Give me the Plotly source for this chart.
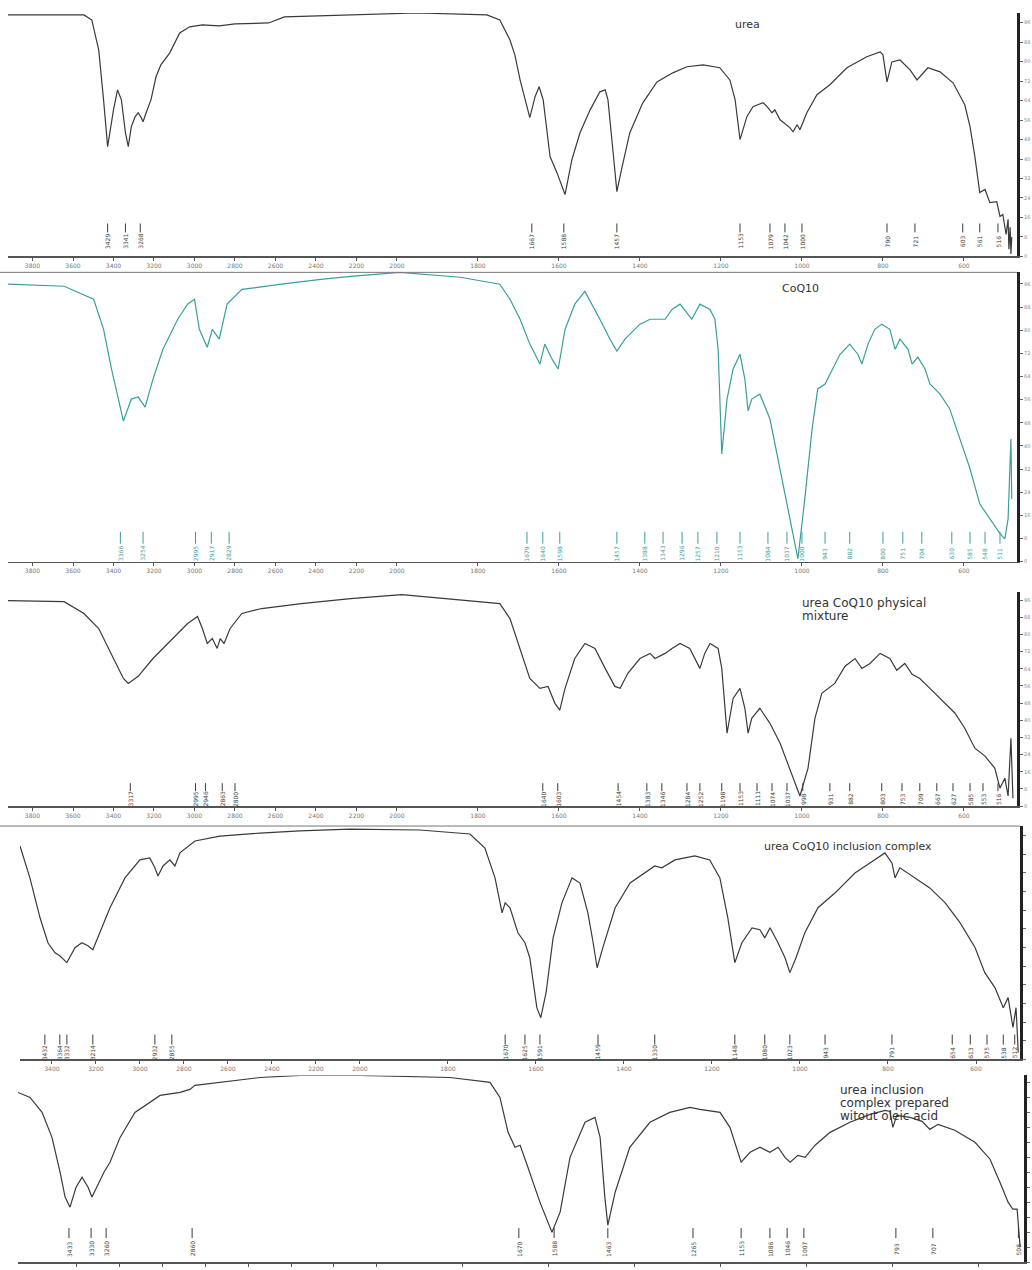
import numpy as np
import plotly.graph_objects as go

# ---------------- data (wavenumber cm-1, %T) ----------------
urea_wn = [3921, 3546, 3507, 3473, 3449, 3429, 3400, 3380, 3361, 3341, 3327, 3312, 3293, 3278, 3263,
           3254, 3239, 3215, 3190, 3166, 3122, 3073, 3024, 2961, 2878, 2800, 2634, 2556, 2390, 2229,
           2146, 1951, 1778, 1746, 1721, 1709, 1696, 1672, 1659, 1649, 1639, 1622, 1605, 1585, 1568,
           1548, 1523, 1499, 1486, 1479, 1467, 1457, 1444, 1425, 1393, 1358, 1319, 1284, 1244, 1203,
           1178, 1165, 1153, 1136, 1121, 1096, 1086, 1074, 1067, 1054, 1030, 1022, 1012, 1005, 988,
           963, 931, 889, 840, 807, 800, 790, 778, 758, 733, 716, 689, 659, 627, 598,
           585, 573, 561, 548, 536, 519, 511, 504, 496, 491, 489, 486, 484, 482]
urea_t = [99.2, 99.2, 97.1, 84.8, 64.3, 45.1, 60.2, 68.4, 64.3, 50.8, 45.1, 53.3, 57.4, 59.0, 57.0,
          55.3, 59.0, 64.3, 73.8, 78.7, 83.6, 91.8, 94.3, 95.1, 94.7, 95.5, 95.9, 98.4, 98.8, 99.2,
          99.6, 100.0, 99.2, 97.1, 88.9, 82.8, 72.5, 57.0, 65.6, 69.7, 64.3, 41.0, 34.4, 25.4, 39.8,
          50.8, 60.2, 67.6, 68.4, 64.3, 43.9, 26.6, 36.9, 50.8, 63.1, 71.7, 75.4, 77.9, 78.7, 77.5,
          72.5, 64.3, 48.0, 57.4, 61.5, 63.1, 61.5, 59.0, 60.2, 56.1, 52.9, 51.2, 54.1, 52.0, 59.0,
          66.4, 70.5, 77.5, 82.0, 84.0, 82.8, 71.7, 79.9, 80.7, 76.6, 72.5, 77.5, 75.8, 71.3, 62.3,
          53.3, 41.0, 26.2, 27.5, 22.1, 22.5, 16.4, 17.2, 9.0, 15.2, 2.9, 12.0, 1.0, 8.0]

coq_wn = [3921, 3644, 3498, 3449, 3410, 3376, 3351, 3312, 3278, 3244, 3205, 3156, 3083, 3034, 3000,
          2976, 2937, 2912, 2878, 2839, 2766, 2571, 2376, 2229, 1993, 1844, 1746, 1721, 1696, 1672,
          1647, 1635, 1617, 1602, 1585, 1561, 1536, 1499, 1474, 1457, 1437, 1400, 1375, 1338, 1321,
          1301, 1282, 1272, 1252, 1227, 1215, 1207, 1198, 1185, 1170, 1153, 1141, 1133, 1124, 1104,
          1079, 1054, 1030, 1010, 993, 975, 961, 943, 906, 882, 862, 852, 837, 820, 803,
          783, 770, 758, 738, 728, 714, 696, 684, 659, 635, 610, 585, 561, 536, 511,
          499, 491, 484, 482]
coq_t = [95.9, 95.2, 90.7, 80.3, 66.6, 56.2, 48.6, 56.2, 56.9, 53.4, 63.1, 73.4, 83.8, 89.0, 90.7,
         80.3, 74.1, 80.3, 76.9, 89.0, 94.1, 95.9, 97.6, 98.6, 100.0, 98.3, 95.9, 90.7, 83.8, 75.2,
         68.3, 75.2, 70.0, 66.6, 80.3, 89.0, 93.4, 83.8, 76.9, 72.8, 76.9, 82.1, 83.8, 83.8, 87.2,
         89.0, 85.5, 83.8, 89.0, 87.2, 83.8, 73.4, 37.2, 56.2, 66.6, 71.7, 63.1, 52.1, 56.2, 57.9,
         49.3, 32.1, 14.8, 1.0, 21.7, 45.9, 59.7, 61.4, 71.7, 75.2, 71.7, 68.3, 75.2, 80.3, 82.1,
         80.3, 73.4, 76.9, 73.4, 68.3, 70.7, 66.6, 61.4, 57.9, 52.8, 42.4, 32.1, 20.0, 14.8, 9.7,
         7.9, 14.8, 42.4, 21.7]

mix_wn = [3921, 3644, 3546, 3473, 3400, 3351, 3327, 3278, 3205, 3107, 3034, 2985, 2961, 2937, 2912,
          2888, 2873, 2854, 2824, 2766, 2668, 2473, 2229, 1988, 1869, 1746, 1721, 1696, 1672, 1647,
          1627, 1610, 1598, 1585, 1561, 1536, 1511, 1486, 1462, 1449, 1430, 1400, 1375, 1363, 1338,
          1321, 1301, 1277, 1264, 1252, 1240, 1227, 1207, 1198, 1185, 1170, 1153, 1141, 1133, 1124,
          1104, 1079, 1054, 1030, 1005, 985, 968, 951, 919, 894, 869, 852, 832, 807, 783,
          766, 746, 728, 709, 684, 659, 622, 598, 573, 548, 524, 511, 499, 491, 484, 479]
mix_t = [95.8, 95.3, 89.8, 82.8, 68.8, 59.5, 57.2, 60.5, 68.8, 78.1, 85.1, 88.4, 82.8, 75.8, 78.1,
         73.5, 78.1, 75.8, 82.8, 89.8, 92.1, 94.4, 96.7, 98.6, 96.7, 94.4, 87.4, 73.5, 59.5, 54.9,
         55.8, 47.9, 44.7, 54.9, 68.8, 75.8, 73.5, 64.2, 55.8, 54.9, 61.9, 68.8, 71.2, 68.8, 71.2,
         73.5, 75.8, 73.5, 68.8, 64.2, 71.2, 75.8, 73.5, 64.2, 34.0, 50.2, 54.9, 45.6, 34.0, 40.9,
         45.6, 38.6, 29.3, 17.7, 4.7, 17.7, 40.9, 52.6, 57.2, 65.1, 68.8, 64.2, 66.5, 71.2, 68.8,
         63.3, 66.5, 61.4, 59.5, 54.9, 50.2, 43.3, 36.3, 27.0, 23.3, 17.7, 8.4, 13.0, 4.7, 31.6, 3.7]

inc_wn = [3545, 3500, 3454, 3418, 3386, 3364, 3332, 3295, 3264, 3236, 3214, 3182, 3136, 3068, 3000,
          2955, 2932, 2918, 2895, 2864, 2841, 2818, 2750, 2636, 2455, 2273, 2045, 1864, 1750, 1716,
          1693, 1677, 1670, 1659, 1641, 1625, 1614, 1598, 1589, 1577, 1561, 1541, 1518, 1500, 1482,
          1470, 1461, 1448, 1420, 1386, 1352, 1330, 1314, 1284, 1239, 1205, 1182, 1164, 1148, 1132,
          1109, 1091, 1080, 1068, 1050, 1034, 1023, 1009, 989, 959, 920, 875, 841, 807, 791,
          784, 773, 739, 705, 670, 636, 602, 580, 557, 538, 527, 516, 509, 504]
inc_t = [91.5, 77.8, 60.7, 50.0, 45.7, 44.4, 41.5, 47.9, 50.0, 48.7, 47.0, 54.3, 65.0, 77.8, 85.5,
         86.3, 82.1, 78.6, 82.9, 85.5, 82.9, 88.5, 93.6, 95.7, 97.0, 97.9, 98.7, 98.3, 96.6, 90.6,
         77.8, 62.8, 67.1, 65.0, 54.3, 50.0, 43.6, 22.2, 17.9, 28.6, 52.1, 67.1, 77.8, 75.6, 62.8,
         50.0, 39.3, 47.9, 65.0, 75.6, 79.9, 82.9, 82.1, 85.5, 87.2, 85.5, 77.8, 60.7, 41.5, 50.0,
         56.4, 55.6, 52.1, 56.4, 50.0, 43.6, 37.2, 43.6, 54.3, 65.0, 71.4, 79.9, 84.2, 88.5, 84.2,
         77.8, 82.1, 77.8, 73.5, 67.1, 58.5, 47.9, 37.2, 30.8, 22.2, 26.5, 13.7, 22.2, 3.0]

uic_wn = [3670, 3614, 3558, 3512, 3474, 3451, 3428, 3400, 3372, 3344, 3326, 3298, 3270, 3242, 3195,
          3126, 3009, 2916, 2870, 2847, 2730, 2544, 2358, 2079, 1830, 1737, 1714, 1695, 1679, 1667,
          1649, 1621, 1593, 1574, 1551, 1516, 1493, 1481, 1470, 1463, 1446, 1412, 1365, 1319, 1272,
          1249, 1202, 1179, 1153, 1132, 1109, 1086, 1067, 1051, 1039, 1021, 1004, 981, 946, 900,
          853, 818, 807, 800, 791, 760, 732, 714, 695, 656, 609, 574, 551, 532, 521,
          511, 504]
uic_t = [90.9, 88.2, 80.2, 66.8, 48.1, 34.8, 29.4, 40.1, 45.5, 40.1, 34.8, 41.2, 48.1, 53.5, 66.8,
         80.2, 89.3, 90.9, 92.5, 94.7, 96.3, 98.9, 100.0, 100.0, 98.9, 96.3, 88.2, 69.5, 61.5, 62.6,
         50.8, 32.1, 16.0, 26.7, 56.1, 74.9, 77.5, 66.8, 34.8, 19.8, 37.4, 61.5, 74.9, 80.2, 82.9,
         81.8, 80.2, 72.2, 53.5, 58.8, 61.5, 58.8, 61.5, 56.1, 53.5, 57.2, 56.1, 62.6, 69.5, 74.9,
         79.1, 81.3, 80.7, 72.2, 78.6, 77.5, 75.4, 71.1, 73.8, 70.6, 64.2, 55.1, 42.8, 32.1, 28.3,
         28.3, 8.0]

# peak labels (cm-1)
urea_peaks = [3429, 3341, 3268, 1667, 1588, 1457, 1153, 1079, 1042, 1000, 790, 721, 603, 561, 516]
coq_peaks = [3366, 3254, 2995, 2917, 2829, 1679, 1640, 1598, 1457, 1388, 1343, 1296, 1257, 1210,
             1153, 1084, 1037, 1000, 943, 882, 800, 751, 704, 630, 585, 548, 511]
mix_peaks = [3317, 2995, 2946, 2863, 2800, 1640, 1603, 1454, 1383, 1346, 1284, 1252, 1198, 1153,
             1111, 1074, 1037, 998, 931, 882, 803, 753, 709, 667, 627, 585, 553, 516]
inc_peaks = [3432, 3364, 3332, 3214, 2932, 2855, 1670, 1625, 1591, 1459, 1330, 1148, 1080, 1023,
             943, 791, 654, 613, 575, 538, 512]
uic_peaks = [3433, 3330, 3260, 2860, 1670, 1588, 1463, 1265, 1153, 1086, 1046, 1007, 793, 707, 508]

ticks_a = [3800, 3600, 3400, 3200, 3000, 2800, 2600, 2400, 2200, 2000, 1800, 1600, 1400, 1200, 1000, 800, 600]
ticks_b = [3400, 3200, 3000, 2800, 2600, 2400, 2200, 2000, 1800, 1600, 1400, 1200, 1000, 800, 600]

W, H = 1032, 1270
DARK = '#3a3a3a'
TEAL = '#3a9e9e'


def to_u(w):
    """Usual FTIR scale: below 2000 cm-1 the axis is expanded two-fold."""
    w = np.asarray(w, dtype=float)
    return np.where(w > 2000, 2000 + (w - 2000) / 2.0, w)


def py(p):
    return 1 - p / H


def px(p):
    return p / W


panels = [
    dict(wn=urea_wn, t=urea_t, peaks=urea_peaks, color=DARK, ticks=ticks_a, wl=3921, wr=469,
         x0=8, x1=1017, ytop=13, ybot=257, lt=224, lb=233, lab=242, ylab=True, xlab=True),
    dict(wn=coq_wn, t=coq_t, peaks=coq_peaks, color=TEAL, ticks=ticks_a, wl=3921, wr=469,
         x0=8, x1=1017, ytop=273, ybot=563, lt=533, lb=545, lab=555, ylab=True, xlab=True),
    dict(wn=mix_wn, t=mix_t, peaks=mix_peaks, color=DARK, ticks=ticks_a, wl=3921, wr=469,
         x0=8, x1=1017, ytop=593, ybot=808, lt=785, lb=793, lab=801, ylab=True, xlab=True),
    dict(wn=inc_wn, t=inc_t, peaks=inc_peaks, color=DARK, ticks=ticks_b, wl=3545, wr=500,
         x0=20, x1=1020, ytop=828, ybot=1062, lt=1037, lb=1047, lab=1055, ylab=False, xlab=True),
    dict(wn=uic_wn, t=uic_t, peaks=uic_peaks, color=DARK, ticks=ticks_b, wl=3670, wr=495,
         x0=18, x1=1024, ytop=1078, ybot=1265, lt=1231, lb=1241, lab=1252, ylab=False, xlab=False),
]

fig = go.Figure()
layout = {}
annotations = []
shapes = []
for i, p in enumerate(panels, start=1):
    sfx = '' if i == 1 else str(i)
    xa, ya = 'x' + sfx, 'y' + sfx
    fig.add_trace(go.Scatter(x=to_u(p['wn']), y=p['t'], mode='lines',
                             line=dict(color=p['color'], width=1.2),
                             xaxis=xa, yaxis=ya, showlegend=False, hoverinfo='skip'))
    layout['xaxis' + sfx] = dict(
        domain=[px(p['x0']), px(p['x1'])],
        range=[float(to_u(p['wl'])), float(to_u(p['wr']))],
        anchor=ya, showgrid=False, zeroline=False, showline=True,
        linecolor='#555', linewidth=1.5, ticks='outside', ticklen=3, tickcolor='#555',
        showticklabels=p['xlab'],
        tickvals=[float(v) for v in to_u(p['ticks'])], ticktext=[str(t) for t in p['ticks']],
        tickfont=dict(size=6, color='#777', family='DejaVu Sans'))
    layout['yaxis' + sfx] = dict(
        domain=[py(p['ybot']), py(p['ytop'])], range=[0, 100], anchor=xa, side='right',
        showgrid=False, zeroline=False, showline=True, linecolor='#222', linewidth=3,
        ticks='outside', ticklen=3, tickcolor='#666', tick0=0, dtick=8,
        showticklabels=p['ylab'],
        tickfont=dict(size=5, color='#888', family='DejaVu Sans'))
    for pk in p['peaks']:
        xu = float(to_u(pk))
        shapes.append(dict(type='line', xref=xa, yref='paper', x0=xu, x1=xu,
                           y0=py(p['lt']), y1=py(p['lb']), line=dict(color=p['color'], width=1)))
        annotations.append(dict(text=str(pk), x=xu, xref=xa, y=py(p['lab']), yref='paper',
                                textangle=-90, showarrow=False, xanchor='center', yanchor='middle',
                                font=dict(size=6, color=p['color'], family='DejaVu Sans')))

# separator lines between recordings
shapes.append(dict(type='line', xref='paper', yref='paper', x0=0, x1=px(1017), y0=py(273), y1=py(273),
                   line=dict(color='#777', width=1)))
shapes.append(dict(type='line', xref='paper', yref='paper', x0=0, x1=px(1020), y0=py(828), y1=py(828),
                   line=dict(color='#777', width=1)))

# panel titles, one annotation per line: (text, x, y, anchor, size)
titles = [
    ('urea', 747, 25, 'center', 11),
    ('CoQ10', 800, 289, 'center', 11),
    ('urea CoQ10 physical', 800, 604, 'left', 12),
    ('mixture', 800, 617, 'left', 12),
    ('urea CoQ10 inclusion complex', 848, 849, 'center', 11),
    ('urea inclusion', 838, 1093, 'left', 12),
    ('complex prepared', 838, 1106, 'left', 12),
    ('witout oleic acid', 838, 1119, 'left', 12),
]
for txt, tx, ty, al, sz in titles:
    annotations.append(dict(text=txt, x=px(tx), y=py(ty), xref='paper', yref='paper', showarrow=False,
                            xanchor=al, yanchor='middle',
                            font=dict(size=sz, color='#333', family='DejaVu Sans')))

fig.update_layout(width=W, height=H, margin=dict(l=0, r=0, t=0, b=0), autosize=False,
                  paper_bgcolor='white', plot_bgcolor='white', hovermode=False,
                  annotations=annotations, shapes=shapes, **layout)
fig.write_html(
    'out.html',
    config={'displayModeBar': False, 'responsive': False, 'staticPlot': True},
    post_script=("document.documentElement.style.margin='0px';"
                 "document.body.style.margin='0px';"
                 "document.body.style.overflow='hidden';"
                 "var gd=document.getElementById('{plot_id}');"
                 "gd.style.position='fixed';gd.style.left='0px';gd.style.top='0px';"))
